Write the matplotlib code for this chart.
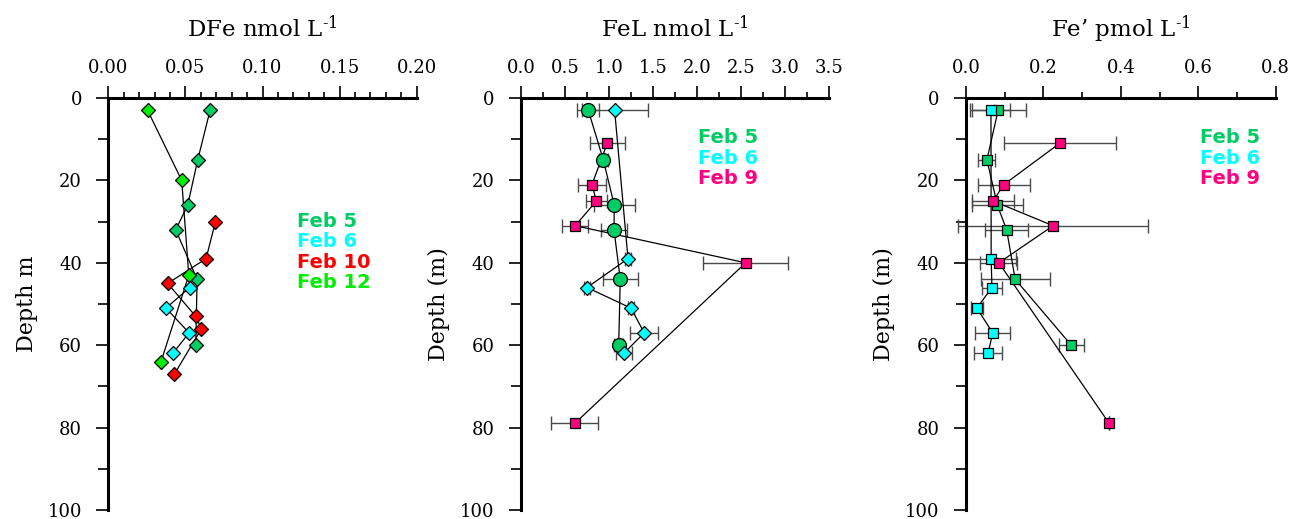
import matplotlib
matplotlib.use("Agg")
import matplotlib.pyplot as plt
from matplotlib.ticker import MultipleLocator, FormatStrFormatter

# ---------------- data ----------------
# DFe (nmol/L)
dfe_feb5_depth = [3, 15, 26, 32, 44, 60]
dfe_feb5 = [0.066, 0.058, 0.0515, 0.0437, 0.0576, 0.0567]
dfe_feb6_depth = [46, 51, 57, 62]
dfe_feb6 = [0.0528, 0.0374, 0.0524, 0.0418]
dfe_feb10_depth = [30, 39, 45, 53, 56, 67]
dfe_feb10 = [0.0695, 0.0634, 0.0385, 0.0567, 0.0604, 0.0429]
dfe_feb12_depth = [3, 20, 43, 64]
dfe_feb12 = [0.0255, 0.0476, 0.0522, 0.0342]

# FeL (nmol/L)
fel_feb5_depth = [3, 15, 26, 32, 44, 60]
fel_feb5 = [0.765, 0.935, 1.06, 1.057, 1.128, 1.11]
fel_feb5_err = [0.125, 0.05, 0.23, 0.15, 0.2, 0.05]
fel_feb6_depth = [3, 39, 46, 51, 57, 62]
fel_feb6 = [1.064, 1.216, 0.75, 1.25, 1.40, 1.167]
fel_feb6_err = [0.375, 0.03, 0.03, 0.03, 0.16, 0.09]
fel_feb9_depth = [11, 21, 25, 31, 40, 79]
fel_feb9 = [0.98, 0.807, 0.856, 0.617, 2.553, 0.61]
fel_feb9_err = [0.2, 0.16, 0.12, 0.15, 0.48, 0.27]

# Fe' (pmol/L)
fep_feb5_depth = [3, 15, 26, 32, 44, 60]
fep_feb5 = [0.083, 0.054, 0.081, 0.105, 0.127, 0.272]
fep_feb5_err = [0.072, 0.022, 0.065, 0.055, 0.089, 0.032]
fep_feb6_depth = [3, 39, 46, 51, 57, 62]
fep_feb6 = [0.0645, 0.065, 0.067, 0.028, 0.069, 0.057]
fep_feb6_err = [0.05, 0.065, 0.025, 0.016, 0.045, 0.037]
fep_feb9_depth = [11, 21, 25, 31, 40, 79]
fep_feb9 = [0.242, 0.098, 0.07, 0.225, 0.085, 0.37]
fep_feb9_err = [0.145, 0.068, 0.054, 0.245, 0.048, 0.0]

C5 = '#00CC66'
C6 = '#00FFFF'
C9 = '#FF0080'
C10 = '#FF0000'
C12 = '#00EE00'

SERIF = 'DejaVu Serif'
plt.rcParams['font.family'] = SERIF
plt.rcParams['mathtext.fontset'] = 'dejavuserif'

fig = plt.figure(figsize=(12.91, 5.19), dpi=100)
W, H = 1291.0, 519.0
top_px, bot_px = 98.0, 510.0
panels = [(108.3, 416.7), (521.0, 829.0), (966.0, 1275.7)]
axes = []
for (l, r) in panels:
    ax = fig.add_axes([l / W, 1 - bot_px / H, (r - l) / W, (bot_px - top_px) / H])
    axes.append(ax)


def style(ax, xmax, major, minor, fmt, title, ylabel):
    ax.set_xlim(0, xmax)
    ax.set_ylim(100, 0)
    ax.xaxis.tick_top()
    ax.xaxis.set_label_position('top')
    ax.xaxis.set_major_locator(MultipleLocator(major))
    ax.xaxis.set_minor_locator(MultipleLocator(minor))
    ax.xaxis.set_major_formatter(FormatStrFormatter(fmt))
    ax.yaxis.set_major_locator(MultipleLocator(20))
    ax.yaxis.set_minor_locator(MultipleLocator(10))
    for s in ('right', 'bottom'):
        ax.spines[s].set_visible(False)
    for s in ('top', 'left'):
        ax.spines[s].set_linewidth(2.2)
    ax.tick_params(axis='x', which='major', direction='out', length=9, width=1.2,
                   labelsize=13, pad=6)
    ax.tick_params(axis='x', which='minor', direction='out', length=4, width=1.2)
    ax.tick_params(axis='y', which='major', direction='out', length=9, width=1.2,
                   labelsize=13, pad=10)
    ax.tick_params(axis='y', which='minor', direction='out', length=7, width=1.2)
    ax.set_xlabel(title, fontsize=16.5, labelpad=16)
    ax.set_ylabel(ylabel, fontsize=16, labelpad=7)
    ax.patch.set_visible(False)


def series(ax, x, y, color, marker, ms, xerr=None):
    if xerr is not None:
        ax.errorbar(x, y, xerr=xerr, fmt='none', ecolor='#4a4a4a', elinewidth=1.0,
                    capsize=5, capthick=1.0, zorder=2, clip_on=False)
    ax.plot(x, y, color='black', lw=0.9, zorder=3, clip_on=False)
    ax.plot(x, y, linestyle='none', marker=marker, ms=ms, mfc=color, mec='black',
            mew=0.9, zorder=4, clip_on=False)


SUP = '$^{\\text{-1}}$'

# Panel 1: DFe
ax = axes[0]
style(ax, 0.20, 0.05, 0.01, '%.2f', 'DFe nmol L' + SUP, 'Depth m')
series(ax, dfe_feb5, dfe_feb5_depth, C5, 'D', 7.2)
series(ax, dfe_feb12, dfe_feb12_depth, C12, 'D', 7.2)
series(ax, dfe_feb10, dfe_feb10_depth, C10, 'D', 7.2)
series(ax, dfe_feb6, dfe_feb6_depth, C6, 'D', 7.2)
leg1 = [('Feb 5', C5), ('Feb 6', C6), ('Feb 10', C10), ('Feb 12', C12)]
for i, (t, c) in enumerate(leg1):
    ax.text(0.1225, 29.9 + i * 5.0, t, color=c, fontsize=14, fontweight='bold',
            family='DejaVu Sans', va='center', ha='left')

# Panel 2: FeL
ax = axes[1]
style(ax, 3.5, 0.5, 0.25, '%.1f', 'FeL nmol L' + SUP, 'Depth (m)')
series(ax, fel_feb5, fel_feb5_depth, C5, 'o', 10, fel_feb5_err)
series(ax, fel_feb6, fel_feb6_depth, C6, 'D', 6.8, fel_feb6_err)
series(ax, fel_feb9, fel_feb9_depth, C9, 's', 7.2, fel_feb9_err)
leg2 = [('Feb 5', C5), ('Feb 6', C6), ('Feb 9', C9)]
for i, (t, c) in enumerate(leg2):
    ax.text(2.01, 9.6 + i * 5.0, t, color=c, fontsize=14, fontweight='bold',
            family='DejaVu Sans', va='center', ha='left')

# Panel 3: Fe'
ax = axes[2]
style(ax, 0.8, 0.2, 0.1, '%.1f', 'Fe\u2019 pmol L' + SUP, 'Depth (m)')
series(ax, fep_feb5, fep_feb5_depth, C5, 's', 7.4, fep_feb5_err)
series(ax, fep_feb6, fep_feb6_depth, C6, 's', 7.4, fep_feb6_err)
series(ax, fep_feb9, fep_feb9_depth, C9, 's', 7.4, fep_feb9_err)
for i, (t, c) in enumerate(leg2):
    ax.text(0.604, 9.6 + i * 5.0, t, color=c, fontsize=14, fontweight='bold',
            family='DejaVu Sans', va='center', ha='left')

fig.savefig('out.png', dpi=100)
